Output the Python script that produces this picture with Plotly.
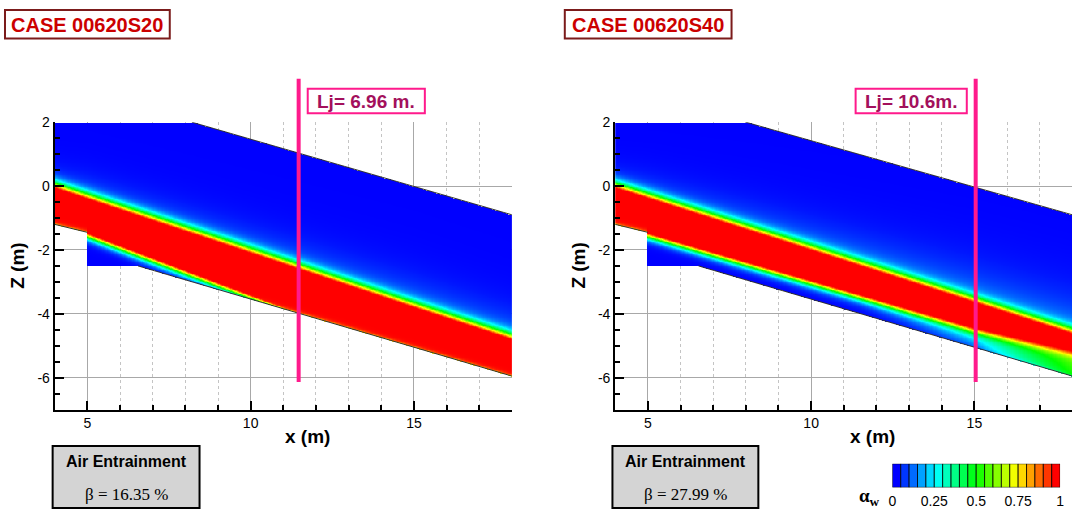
import numpy as np
import plotly.graph_objects as go

W, H = 1076, 511

# ---------------- values ----------------
case_titles = ["CASE 00620S20", "CASE 00620S40"]
jet_labels = ["Lj= 6.96 m.", "Lj= 10.6m."]
jet_marker_x = [11.47, 15.04]            # x of the pink jet-length marker (m)
beta_labels = ["β = 16.35 %", "β = 27.99 %"]

# computational domain boundaries (m)
s20_top_x = [4.0, 8.2, 18.0]
s20_top_z = [2.0, 2.0, -0.9]
s40_top_x = [4.0, 8.0, 18.0]
s40_top_z = [2.0, 2.0, -0.9]
chute_x = [4.0, 5.0]
chute_z = [-1.2, -1.45]
floor_x = [5.0, 6.55, 18.0]
floor_z = [-2.5, -2.5, -5.95]

# water-jet profile anchors (m) read along x
prof_x = [4.0, 5.0, 8.0, 11.5, 15.0, 18.0]
s20_upper = [-0.06, -0.40, -1.42, -2.61, -3.80, -4.80]
s20_lower = [-1.30, -1.47, -2.63, -3.98, -5.33, -6.50]
s20_haze = [0.30, 0.35, 0.40, 0.45, 0.50, 0.50]
s20_fringe_w = [0.0, 0.0, 0.0, 0.0, 0.0, 0.0]
s20_fringe_s = [0.2, 0.2, 0.2, 0.2, 0.2, 0.2]
s40_upper = [-0.06, -0.38, -1.36, -2.50, -3.64, -4.62]
s40_lower = [-1.30, -1.47, -2.36, -3.39, -4.43, -5.15]
s40_haze = [0.30, 0.35, 0.45, 0.55, 0.65, 0.70]
s40_fringe_w = [0.0, 0.0, 0.02, 0.05, 0.28, 0.58]
s40_fringe_s = [0.2, 0.2, 0.3, 0.4, 0.6, 2.0]

x_tick_vals = [5, 10, 15]
x_tick_text = ["5", "10", "15"]
y_tick_vals = [-6, -4, -2, 0, 2]
y_tick_text = ["-6", "-4", "-2", "0", "2"]
cbar_tick_vals = [0, 0.25, 0.5, 0.75, 1]
cbar_tick_text = ["0", "0.25", "0.5", "0.75", "1"]
n_levels = 20

# ---------------- styling ----------------
jet_cs = [[0.0, "#0000ff"], [0.25, "#00ffff"], [0.5, "#00ff00"],
          [0.75, "#ffff00"], [1.0, "#ff0000"]]
SANS = "Liberation Sans, Arial, sans-serif"
SERIF = "Liberation Serif, Times New Roman, serif"
PINK = "#ff1a8c"


def px(x):
    return x / W


def py(y):
    return 1 - y / H


# ---------------- field construction ----------------
xg = np.arange(4.0, 18.0001, 0.04)
zg = np.arange(-6.2, 2.0001, 0.025)
X, Z = np.meshgrid(xg, zg)


def build(top_x, top_z, upper, lower, haze, fw, fs):
    top = np.interp(X, top_x, top_z)
    bot = np.where(X < 5.0, np.interp(X, chute_x, chute_z),
                   np.interp(X, floor_x, floor_z))
    up = np.interp(X, prof_x, upper)
    lo = np.interp(X, prof_x, lower)
    hz = np.interp(X, prof_x, haze)
    w = np.interp(X, prof_x, fw)
    s = np.interp(X, prof_x, fs)
    du = np.clip(Z - up, 0, None)
    dl = np.clip(lo - Z, 0, None)
    a_up = 0.78 * np.exp(-(du / 0.2) ** 1.5) + 0.22 * np.exp(-du / hz)
    a_lo = (1 - w) * np.exp(-(dl / 0.17) ** 1.5) + w * np.exp(-(dl / s) ** 2)
    a = np.where(Z > up, a_up, np.where(Z < lo, a_lo, 1.0))
    a = a * (1 - 0.25 * np.exp(-np.clip(Z - bot, 0, None) / 0.04))
    a = np.round(a, 3).astype(np.float32)
    a[(Z > top) | (Z < bot)] = np.nan
    return a


field_s20 = build(s20_top_x, s20_top_z, s20_upper, s20_lower,
                  s20_haze, s20_fringe_w, s20_fringe_s)
field_s40 = build(s40_top_x, s40_top_z, s40_upper, s40_lower,
                  s40_haze, s40_fringe_w, s40_fringe_s)

fig = go.Figure()

for i, (field, tx, tz) in enumerate([(field_s20, s20_top_x, s20_top_z),
                                     (field_s40, s40_top_x, s40_top_z)]):
    xa = "x" if i == 0 else "x2"
    ya = "y" if i == 0 else "y2"
    fig.add_trace(go.Heatmap(x=xg, y=zg, z=field, colorscale=jet_cs,
                             zmin=0, zmax=1, showscale=False,
                             hoverinfo="skip", xaxis=xa, yaxis=ya))
    # thin boundary outlines
    for bx, bz in [(tx[1:], tz[1:]), (chute_x, chute_z), (floor_x[1:], floor_z[1:])]:
        fig.add_trace(go.Scatter(x=bx, y=bz, mode="lines",
                                 line=dict(color="#333333", width=1),
                                 hoverinfo="skip", showlegend=False,
                                 xaxis=xa, yaxis=ya))

# discrete colour bar as bars
lev_centres = [(k + 0.5) / n_levels for k in range(n_levels)]
lev_colors = [k / (n_levels - 1) for k in range(n_levels)]
fig.add_trace(go.Bar(x=lev_centres, y=[1] * n_levels, width=1 / n_levels,
                     marker=dict(color=lev_colors, colorscale=jet_cs, cmin=0, cmax=1,
                                 line=dict(color="#000000", width=0.8)),
                     hoverinfo="skip", showlegend=False, xaxis="x3", yaxis="y3"))

axis_common_x = dict(
    tickmode="array", tickvals=x_tick_vals, ticktext=x_tick_text,
    ticks="inside", ticklen=9, tickwidth=2, tickcolor="black",
    showline=True, linewidth=2, linecolor="black",
    showgrid=True, gridcolor="#a8a8a8", gridwidth=1, zeroline=False,
    minor=dict(dtick=1, tick0=0, ticks="inside", ticklen=5, tickcolor="black",
               showgrid=True, griddash="dot", gridcolor="#c4c4c4", gridwidth=1),
    tickfont=dict(family=SANS, size=14, color="black"),
)
axis_common_y = dict(
    tickmode="array", tickvals=y_tick_vals, ticktext=y_tick_text,
    ticks="inside", ticklen=9, tickwidth=2, tickcolor="black",
    showline=True, linewidth=2, linecolor="black", range=[-7, 2],
    showgrid=True, gridcolor="#a8a8a8", gridwidth=1, zeroline=False,
    minor=dict(dtick=0.5, tick0=0, ticks="inside", ticklen=5, tickcolor="black",
               showgrid=False),
    tickfont=dict(family=SANS, size=14, color="black"),
)

ydom = [py(408), py(116)]
fig.update_layout(
    width=W, height=511, autosize=False,
    margin=dict(l=0, r=0, t=0, b=0),
    paper_bgcolor="white", plot_bgcolor="white",
    xaxis=dict(domain=[px(51.1), px(511.7)], range=[4, 18], anchor="y", **axis_common_x),
    yaxis=dict(domain=ydom, anchor="x", **axis_common_y),
    xaxis2=dict(domain=[px(615.8), 1.0], range=[4, 17.99], anchor="y2", **axis_common_x),
    yaxis2=dict(domain=ydom, anchor="x2", **axis_common_y),
    xaxis3=dict(domain=[px(895), px(1064)], range=[0, 1], anchor="y3",
                tickmode="array", tickvals=cbar_tick_vals, ticktext=cbar_tick_text,
                showgrid=False, zeroline=False, showline=False, ticks="",
                ticklabelstandoff=4,
                tickfont=dict(family=SANS, size=14, color="black")),
    yaxis3=dict(domain=[py(487), py(463)], range=[0, 1], anchor="x3",
                visible=False, showgrid=False, zeroline=False),
    showlegend=False,
)

shapes = []
annotations = []
case_boxes = [(1, 167), (565, 733)]
air_boxes = [(49, 197), (613, 760)]
lj_boxes = [(306, 424), (858, 970)]
xtitle_pos = [306, 875]
ytitle_pos = [14, 579]

for i in range(2):
    xa = "x" if i == 0 else "x2"
    cx0, cx1 = case_boxes[i]
    shapes.append(dict(type="rect", xref="paper", yref="paper",
                       x0=px(cx0), x1=px(cx1), y0=py(31), y1=py(2),
                       line=dict(color="#7b1b1b", width=2), fillcolor="white"))
    annotations.append(dict(xref="paper", yref="paper", x=px((cx0 + cx1) / 2), y=py(17),
                            text="<b>%s</b>" % case_titles[i], showarrow=False,
                            xanchor="center", yanchor="middle",
                            font=dict(family=SANS, size=20, color="#cc0000")))
    # jet length marker
    shapes.append(dict(type="line", xref=xa, yref="paper",
                       x0=jet_marker_x[i], x1=jet_marker_x[i], y0=py(380), y1=py(72),
                       line=dict(color=PINK, width=4), layer="above"))
    lx0, lx1 = lj_boxes[i]
    shapes.append(dict(type="rect", xref="paper", yref="paper",
                       x0=px(lx0), x1=px(lx1), y0=py(107), y1=py(82),
                       line=dict(color=PINK, width=2), fillcolor="white"))
    annotations.append(dict(xref="paper", yref="paper", x=px((lx0 + lx1) / 2), y=py(95),
                            text="<b>%s</b>" % jet_labels[i], showarrow=False,
                            xanchor="center", yanchor="middle",
                            font=dict(family=SANS, size=19, color="#a3105c")))
    # axis titles
    annotations.append(dict(xref="paper", yref="paper", x=px(xtitle_pos[i]), y=py(435),
                            text="<b>x (m)</b>", showarrow=False,
                            xanchor="center", yanchor="middle",
                            font=dict(family=SANS, size=19, color="black")))
    annotations.append(dict(xref="paper", yref="paper", x=px(ytitle_pos[i]), y=py(262),
                            text="<b>Z (m)</b>", showarrow=False, textangle=-90,
                            xanchor="center", yanchor="middle",
                            font=dict(family=SANS, size=19, color="black")))
    # air entrainment box
    ax0, ax1 = air_boxes[i]
    shapes.append(dict(type="rect", xref="paper", yref="paper",
                       x0=px(ax0), x1=px(ax1), y0=py(508), y1=py(445),
                       line=dict(color="black", width=2), fillcolor="#d4d4d4"))
    annotations.append(dict(xref="paper", yref="paper", x=px((ax0 + ax1) / 2), y=py(461),
                            text="<b>Air Entrainment</b>", showarrow=False,
                            xanchor="center", yanchor="middle",
                            font=dict(family=SANS, size=16, color="black")))
    annotations.append(dict(xref="paper", yref="paper", x=px((ax0 + ax1) / 2), y=py(494),
                            text=beta_labels[i], showarrow=False,
                            xanchor="center", yanchor="middle",
                            font=dict(family=SERIF, size=17, color="black")))

annotations.append(dict(xref="paper", yref="paper", x=px(872), y=py(497),
                        text="<b>α<sub>w</sub></b>", showarrow=False,
                        xanchor="center", yanchor="middle",
                        font=dict(family=SERIF, size=19, color="black")))

fig.update_layout(shapes=shapes, annotations=annotations)
fig.write_html("out.html", config={"displayModeBar": False},
               post_script="document.body.style.margin='0px';"
                           "document.body.style.padding='0px';"
                           "document.body.style.overflow='hidden';")
